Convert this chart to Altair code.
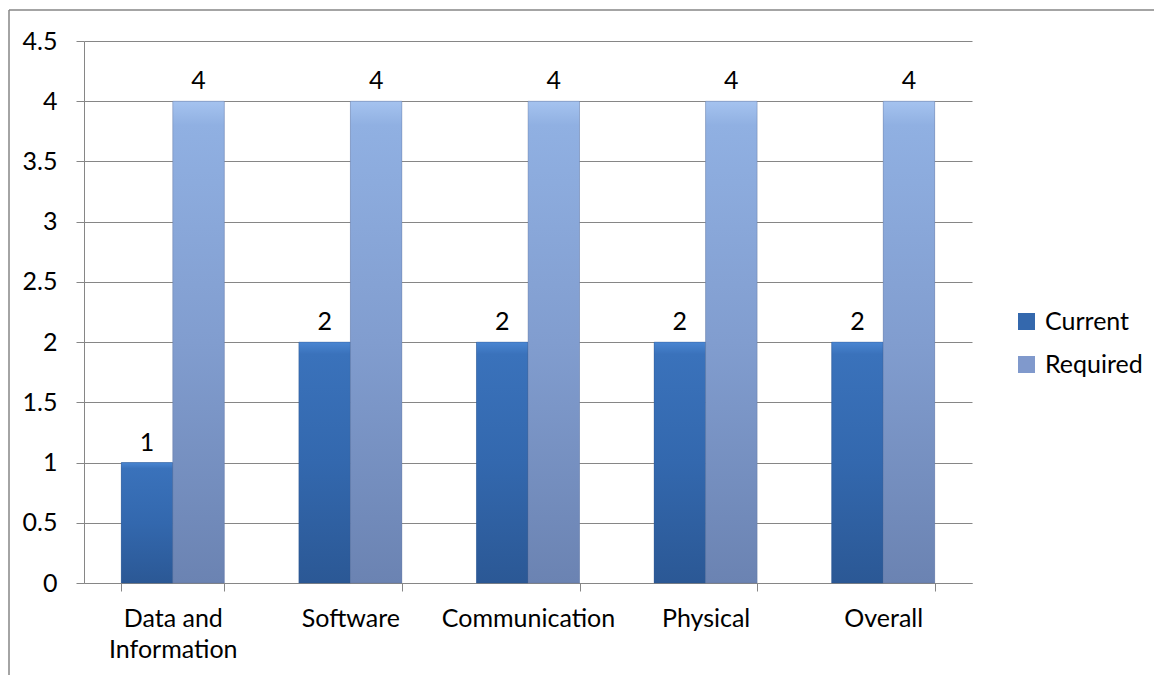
import altair as alt
import pandas as pd

categories = ["Data and Information", "Software", "Communication", "Physical", "Overall"]
series = ["Current", "Required"]
current = [1, 2, 2, 2, 2]
required = [4, 4, 4, 4, 4]
y_ticks = [0, 0.5, 1, 1.5, 2, 2.5, 3, 3.5, 4, 4.5]

rows = []
for c, cur, req in zip(categories, current, required):
    rows.append({"category": c, "series": "Current", "value": cur})
    rows.append({"category": c, "series": "Required", "value": req})
df = pd.DataFrame(rows)

FONT = "Lato"
FS = 25
GREY = "#868686"

grad_current = alt.Gradient(
    gradient="linear", x1=0, x2=0, y1=0, y2=1,
    stops=[alt.GradientStop(color="#4a86d2", offset=0),
           alt.GradientStop(color="#3a72bb", offset=0.05),
           alt.GradientStop(color="#3368ae", offset=0.5),
           alt.GradientStop(color="#2b5895", offset=1)])
grad_required = alt.Gradient(
    gradient="linear", x1=0, x2=0, y1=0, y2=1,
    stops=[alt.GradientStop(color="#a5c3ef", offset=0),
           alt.GradientStop(color="#90b0e2", offset=0.05),
           alt.GradientStop(color="#819dcf", offset=0.5),
           alt.GradientStop(color="#6b83b2", offset=1)])

base = alt.Chart(df).encode(
    x=alt.X("category:N", sort=categories, title=None,
            scale=alt.Scale(paddingInner=0.42, paddingOuter=0.21),
            axis=alt.Axis(labelAngle=0, tickBand="extent", tickSize=8, labelPadding=15,
                          labelLineHeight=31, domainColor=GREY, tickColor=GREY,
                          labelExpr="datum.label == 'Data and Information' ? ['Data and', 'Information'] : datum.label")),
    xOffset=alt.XOffset("series:N", sort=series,
                        scale=alt.Scale(paddingInner=0, paddingOuter=0)),
    y=alt.Y("value:Q", title=None,
            scale=alt.Scale(domain=[0, 4.5], nice=False),
            axis=alt.Axis(values=y_ticks, format=".2~f", tickSize=8, labelPadding=19,
                          grid=True, gridColor=GREY, domainColor=GREY, tickColor=GREY)),
)

legend_bars = base.mark_bar().encode(
    color=alt.Color("series:N", sort=series, title=None,
                    scale=alt.Scale(domain=series, range=["#3468ad", "#8099cc"]),
                    legend=alt.Legend(orient="none", legendX=930, legendY=268,
                                      symbolType="square", symbolSize=289,
                                      symbolStrokeWidth=0, labelOffset=6,
                                      rowPadding=17, labelFontSize=FS, labelFont=FONT,
                                      labelColor="black"))
)

cur_bars = base.transform_filter(alt.datum.series == "Current").mark_bar(
    fill=grad_current, stroke="#2a5088", strokeWidth=0.6, strokeOpacity=0.6)
req_bars = base.transform_filter(alt.datum.series == "Required").mark_bar(
    fill=grad_required, stroke="#5e7299", strokeWidth=0.6, strokeOpacity=0.6)

labels = base.mark_text(dy=-20, font=FONT, fontSize=FS, color="black").encode(
    text=alt.Text("value:Q"))

frame_left = alt.Chart(alt.Data(values=[{}])).mark_rule(color=GREY, strokeWidth=1.5).encode(
    x=alt.value(-75), y=alt.value(-31), y2=alt.value(700))
frame_top = alt.Chart(alt.Data(values=[{}])).mark_rule(color=GREY, strokeWidth=1.5).encode(
    y=alt.value(-31), x=alt.value(-75), x2=alt.value(1200))

chart = alt.layer(legend_bars, cur_bars, req_bars, labels, frame_left, frame_top).properties(
    width=888, height=542,
    autosize=alt.AutoSizeParams(type="none"),
    padding={"left": 84, "top": 41, "right": 182, "bottom": 92},
    background="white",
).configure_view(stroke=None).configure_axis(
    labelFont=FONT, labelFontSize=FS, labelColor="black"
)

chart.save("out.html", embed_options={"renderer": "svg", "actions": False})
